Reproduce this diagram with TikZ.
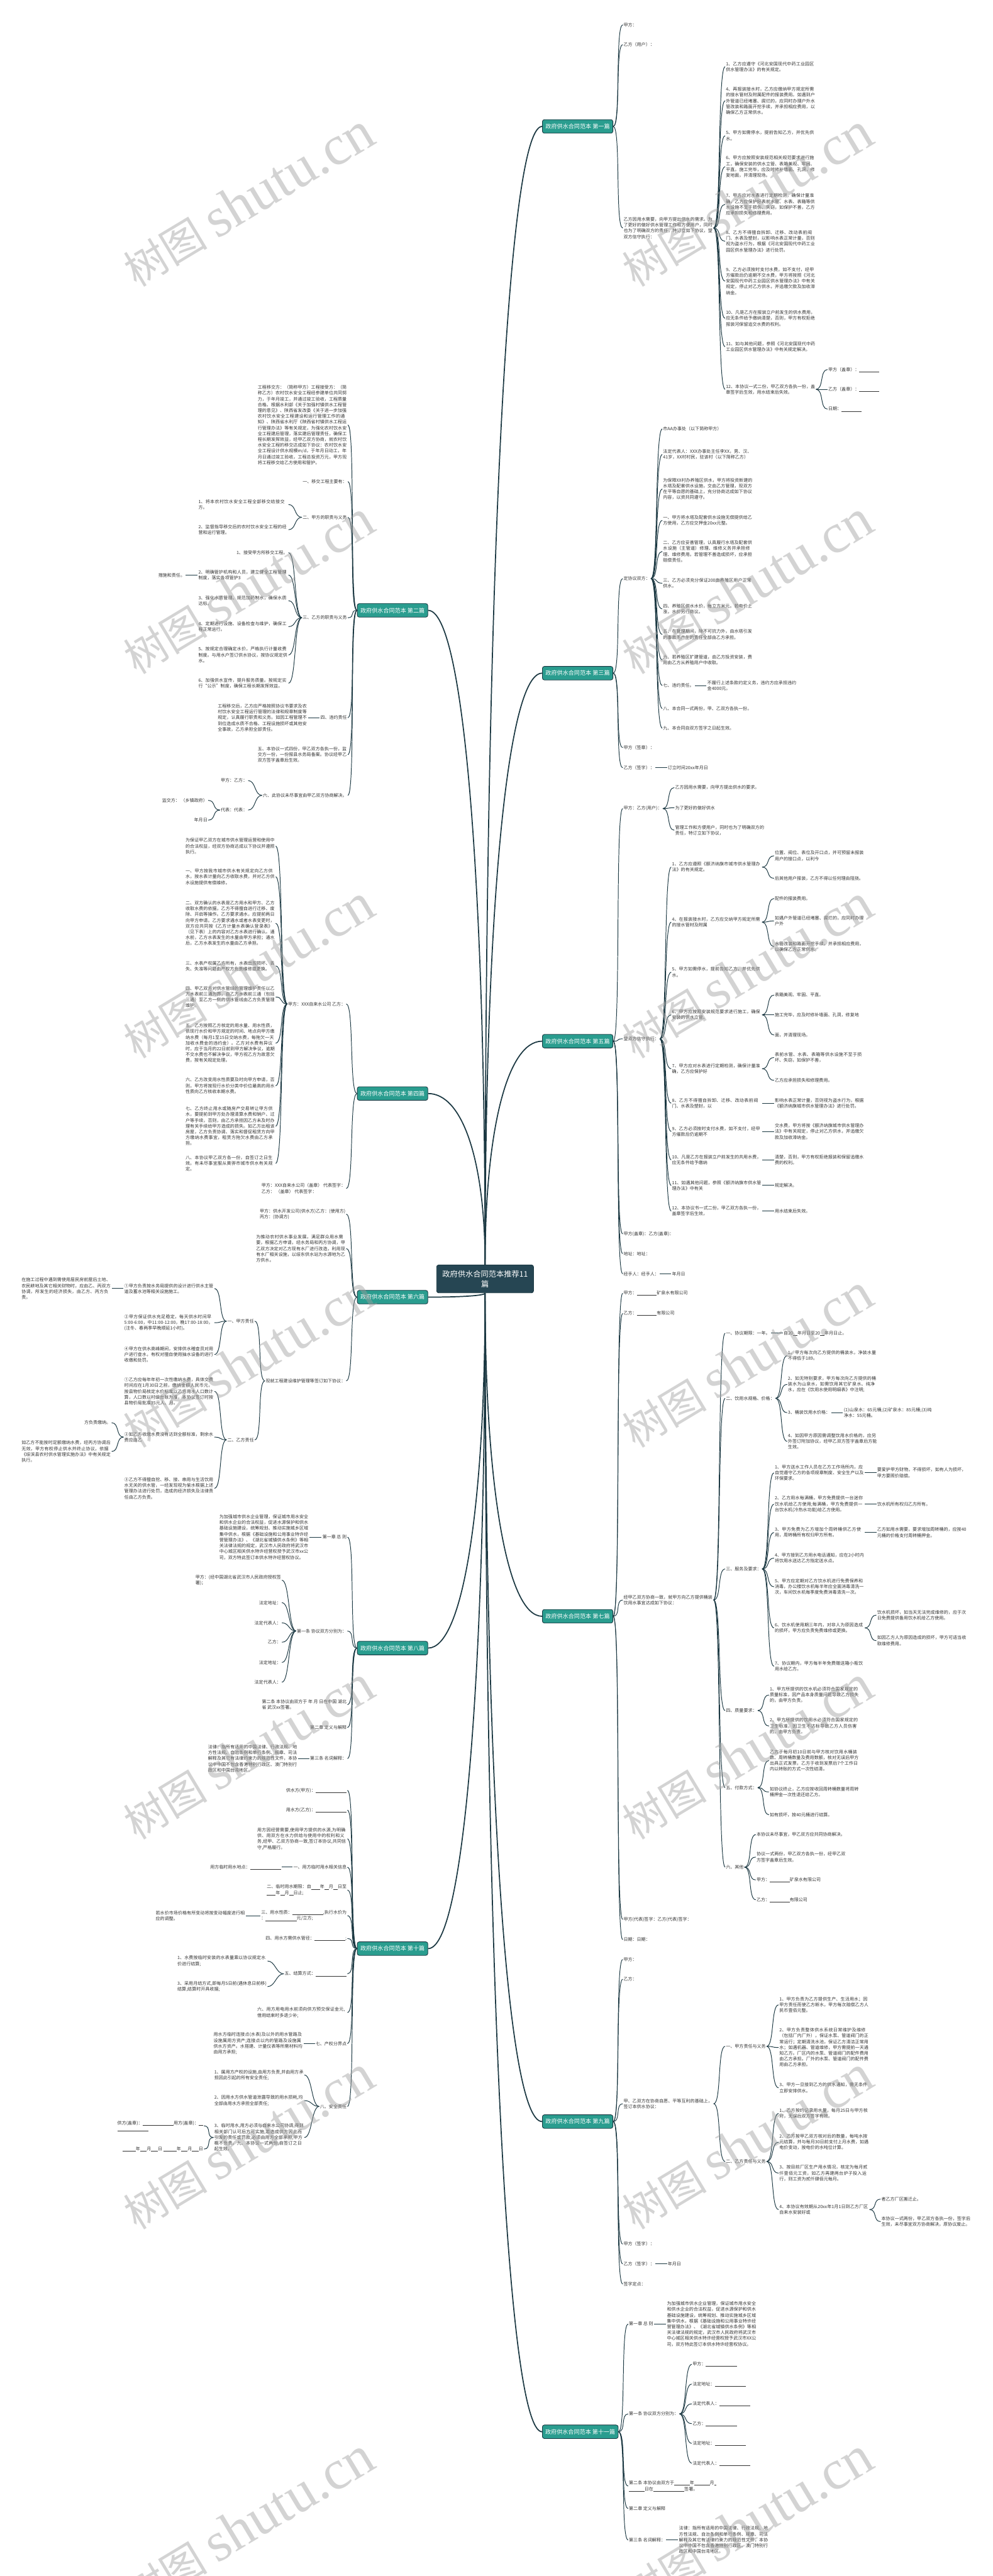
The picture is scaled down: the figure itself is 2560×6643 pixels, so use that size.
\documentclass[tikz,border=0pt]{standalone}
\usepackage{fontspec}
\setmainfont{Noto Sans CJK SC}
\newfontfamily\wmlatin{Liberation Serif}
\XeTeXlinebreaklocale "zh"
\XeTeXlinebreakskip=0pt plus 1pt
\usetikzlibrary{calc,positioning}
\definecolor{slate}{RGB}{38,70,83}
\definecolor{jade}{RGB}{42,157,143}
\definecolor{edge}{RGB}{27,56,66}
\definecolor{ink}{RGB}{51,51,51}
\newcommand{\leaffont}{\fontsize{6.5pt}{8.5pt}\selectfont}
\newcommand{\armfont}{\fontsize{8.4pt}{10pt}\selectfont}
\newcommand{\hubfont}{\fontsize{11.3pt}{15pt}\selectfont}
\newcommand{\fillin}[1]{\rule[-0.15em]{#1em}{0.06em}}
\newcommand{\kidsR}[2]{\foreach \kid in {#2} \draw[twig] (#1.east) to[rc] (\kid.west);}
\newcommand{\kidsL}[2]{\foreach \kid in {#2} \draw[twig] (#1.west) to[lc] (\kid.east);}
\newcommand{\trunkR}[2]{\draw[trunk] (#1.west) .. controls +(-90,0) and ($(root.#2)!0.6!(root.#2|-#1.west)$) .. (root.#2);}
\newcommand{\trunkL}[2]{\draw[trunk] (#1.east) .. controls +(90,0) and ($(root.#2)!0.6!(root.#2|-#1.east)$) .. (root.#2);}
\tikzset{
  rootbox/.style={fill=slate, draw=edge, line width=0.8pt, rounded corners=3pt, text=white, font=\hubfont, align=center, minimum width=50mm, minimum height=14.4mm},
  armbox/.style={fill=jade, draw=edge, line width=0.8pt, rounded corners=3pt, text=white, font=\armfont, minimum width=36.4mm, minimum height=7mm, inner xsep=1.5mm},
  leaf/.style={font=\leaffont, text=ink, inner sep=1pt, align=left},
  R/.style={leaf, anchor=west},
  L/.style={leaf, anchor=east},
  wide/.style={text width=131pt},
  trunk/.style={draw=edge, line width=1.6pt},
  twig/.style={draw=edge, line width=0.9pt},
  rc/.style={out=0, in=180, out distance=4mm, in distance=4mm},
  lc/.style={out=180, in=0, out distance=4mm, in distance=4mm},
  wmark/.style={rotate=31, text=black!38, text opacity=0.45, font=\fontsize{62pt}{62pt}\selectfont}
}
\begin{document}
\begin{tikzpicture}[x=0.2mm, y=-0.2mm]
\fill[white] (0,0) rectangle (2560,6643);
\useasboundingbox (0,0) rectangle (2560,6643);

% hub and arms
\node[rootbox] (root) at (1251,3298) {政府供水合同范本推荐11\\篇};
\node[armbox, anchor=west] (b1) at (1398,326) {政府供水合同范本 第一篇};
\node[armbox, anchor=west] (b3) at (1398,1736) {政府供水合同范本 第三篇};
\node[armbox, anchor=west] (b5) at (1398,2685) {政府供水合同范本 第五篇};
\node[armbox, anchor=west] (b7) at (1398,4168) {政府供水合同范本 第七篇};
\node[armbox, anchor=west] (b9) at (1398,5471) {政府供水合同范本 第九篇};
\node[armbox, anchor=west] (b11) at (1398,6271) {政府供水合同范本 第十一篇};
\node[armbox, anchor=east] (b2) at (1104,1574) {政府供水合同范本 第二篇};
\node[armbox, anchor=east] (b4) at (1104,2820) {政府供水合同范本 第四篇};
\node[armbox, anchor=east] (b6) at (1104,3345) {政府供水合同范本 第六篇};
\node[armbox, anchor=east] (b8) at (1104,4250) {政府供水合同范本 第八篇};
\node[armbox, anchor=east] (b10) at (1104,5025) {政府供水合同范本 第十篇};
\trunkR{b1}{north} \trunkR{b3}{north} \trunkR{b5}{north}
\trunkR{b7}{south} \trunkR{b9}{south} \trunkR{b11}{south}
\trunkL{b2}{north} \trunkL{b4}{north} \trunkL{b6}{south}
\trunkL{b8}{south} \trunkL{b10}{south}

% 第一篇
\node[R] (b1a) at (1606,64) {甲方：};
\node[R] (b1b) at (1606,115) {乙方（用户）：};
\node[R,wide] (b1c) at (1606,588) {乙方因用水需要，向甲方提出供水的需求。为了更好的做好供水管理工作和方便用户，同时也为了明确双方的责任，特订立如下协议，望双方信守执行：};
\node[R,wide] (b1c1) at (1870,172) {1、乙方应遵守《河北安国现代中药工业园区供水管理办法》的有关规定。};
\node[R,wide] (b1c2) at (1870,260) {4、再报装接水时，乙方应缴纳甲方规定所需的接水管材及附属配件的报装费用。如遇到户外管道已经堵塞、腐烂的，应同时办理户外水管改装和路面开挖手续，并承担相应费用，以确保乙方正常供水。};
\node[R,wide] (b1c3) at (1870,350) {5、甲方如需停水，提前告知乙方，并优先供水。};
\node[R,wide] (b1c4) at (1870,430) {6、甲方应按照安装规范相关规范要求进行施工，确保安装的供水立管、表箱美观、牢固、平直。施工完毕，应及时修补墙面、孔洞，修复地面，并清理现场。};
\node[R,wide] (b1c5) at (1870,527) {7、甲方应对水表进行定期检测，确保计量准确，乙方应保护好表前水管、水表、表箱等供水设施不至于损伤、失窃，如保护不善，乙方应承担损失和修理费用。};
\node[R,wide] (b1c6) at (1870,622) {8、乙方不得擅自拆卸、迁移、改动表前阀门、水表及塑封，以影响水表正常计量，否则视为盗水行为，根据《河北安国现代中药工业园区供水管理办法》进行处罚。};
\node[R,wide] (b1c7) at (1870,725) {9、乙方必须按时支付水费，如不支付，经甲方催款后仍逾期不交水费，甲方将按照《河北安国现代中药工业园区供水管理办法》中有关规定，停止对乙方供水，并追缴欠款及加收滞纳金。};
\node[R,wide] (b1c8) at (1870,821) {10、凡是乙方在报装立户前发生的供水费用，应无条件给予缴纳清楚，否则，甲方有权拒绝报装河保留追交水费的权利。};
\node[R,wide] (b1c9) at (1870,894) {11、如与其他问题，参照《河北安国现代中药工业园区供水管理办法》中有关规定解决。};
\node[R,wide] (b1c10) at (1870,1004) {12、本协议一式二份，甲乙双方各执一份，盖章签字后生效，用水结束后失效。};
\node[R] (b1d1) at (2134,953) {甲方（盖章）：\fillin{4.5}};
\node[R] (b1d2) at (2134,1004) {乙方（盖章）：\fillin{4.5}};
\node[R] (b1d3) at (2134,1055) {日期：\fillin{4.5}};
\kidsR{b1}{b1a,b1b,b1c}
\kidsR{b1c}{b1c1,b1c2,b1c3,b1c4,b1c5,b1c6,b1c7,b1c8,b1c9,b1c10}
\kidsR{b1c10}{b1d1,b1d2,b1d3}

% 第三篇
\node[R] (b3a) at (1606,1492) {定协议双方：};
\node[R] (b3b) at (1606,1928) {甲方（签章）：};
\node[R] (b3c) at (1606,1980) {乙方（签字）：};
\node[R] (b3c1) at (1720,1980) {订立时间20xx年月日};
\node[R,wide] (b3a1) at (1708,1106) {市AA办事处（以下简称甲方）};
\node[R,wide] (b3a2) at (1708,1172) {法定代表人：XXX办事处主任李XX，男、汉、41岁，XX村村民，驻该村（以下简称乙方）};
\node[R,wide] (b3a3) at (1708,1261) {为保障XX村办养殖区供水，甲方将投资新建的水塔及配套供水设施，交由乙方管理，现双方在平等自愿的基础上，充分协商达成如下协议内容，以资共同遵守。};
\node[R,wide] (b3a4) at (1708,1342) {一、甲方将水塔及配套供水设施无偿提供给乙方使用，乙方应交押金20xx元整。};
\node[R,wide] (b3a5) at (1708,1422) {二、乙方应妥善管理，认真履行水塔及配套供水设施（主管道）修理、维修义务并承担修理、维修费用。若管理不善造成损坏，应承担赔偿责任。};
\node[R,wide] (b3a6) at (1708,1504) {三、乙方必须充分保证200亩养殖区用户正常供水。};
\node[R,wide] (b3a7) at (1708,1570) {四、养殖区供水水价，每立方米元。若电价上涨，水价另行商议。};
\node[R,wide] (b3a8) at (1708,1636) {五、在管理期间，除不可抗力外，由水塔引发的事故而产生的责任全部由乙方承担。};
\node[R,wide] (b3a9) at (1708,1702) {六、若养殖区扩建管道，由乙方投资安装，费用由乙方从养殖用户中收取。};
\node[R] (b3a10) at (1708,1768) {七、违约责任。};
\node[R,wide] (b3a10a) at (1822,1768) {不履行上述条款约定义务，违约方应承担违约金4000元。};
\node[R] (b3a11) at (1708,1827) {八、本合同一式两份，甲、乙双方各执一份。};
\node[R] (b3a12) at (1708,1878) {九、本合同自双方签字之日起生效。};
\kidsR{b3}{b3a,b3b,b3c}
\kidsR{b3c}{b3c1}
\kidsR{b3a}{b3a1,b3a2,b3a3,b3a4,b3a5,b3a6,b3a7,b3a8,b3a9,b3a10,b3a11,b3a12}
\kidsR{b3a10}{b3a10a}

% 第五篇
\node[R] (b5a) at (1606,2085) {甲方：乙方(用户)：};
\node[R] (b5a1) at (1739,2031) {乙方因用水需要，向甲方提出供水的要求。};
\node[R] (b5a2) at (1739,2083) {为了更好的做好供水};
\node[R,wide] (b5a3) at (1739,2141) {管理工作和方便用户，同时也为了明确双方的责任，特订立如下协议，};
\node[R] (b5b) at (1606,2679) {望双方信守执行：};
\node[R,wide] (b5b1) at (1731,2236) {1、乙方应遵照《额济纳旗市城市供水管理办法》的有关规定。};
\node[R,wide] (b5b1a) at (1996,2207) {位置、阀位、表位及开口点，并可预留未报装用户的接口点，以利今};
\node[R] (b5b1b) at (1996,2265) {后其他用户报装，乙方不得以任何理由阻挠。};
\node[R,wide] (b5b2) at (1731,2378) {4、在报装接水时，乙方应交纳甲方规定所需的接水管材及附属};
\node[R] (b5b2a) at (1996,2317) {配件的报装费用。};
\node[R,wide] (b5b2b) at (1996,2375) {如遇户外管道已经堵塞、腐烂的，应同时办理户外};
\node[R,wide] (b5b2c) at (1996,2441) {水管改装和路面开挖手续，并承担相应费用，以确保乙方正常供水。};
\node[R,wide] (b5b3) at (1731,2507) {5、甲方如需停水，提前告知乙方，并优先供水。};
\node[R,wide] (b5b4) at (1731,2617) {6、甲方应按照安装规范要求进行施工，确保安装的供水立管、};
\node[R] (b5b4a) at (1996,2566) {表箱美观、牢固、平直。};
\node[R] (b5b4b) at (1996,2617) {施工完毕，应及时修补墙面、孔洞，修复地};
\node[R] (b5b4c) at (1996,2669) {面，并清理现场。};
\node[R,wide] (b5b5) at (1731,2756) {7、甲方应对水表进行定期检测，确保计量准确，乙方应保护好};
\node[R,wide] (b5b5a) at (1996,2727) {表前水管、水表、表箱等供水设施不至于损坏、失窃，如保护不善，};
\node[R] (b5b5b) at (1996,2786) {乙方应承担损失和修理费用。};
\node[R,wide] (b5b6) at (1731,2845) {8、乙方不得擅自拆卸、迁移、改动表前阀门、水表及塑封，以};
\node[R,wide] (b5b6a) at (1996,2845) {影响水表正常计量，否则视为盗水行为，根据《额济纳旗城市供水管理办法》进行处罚。};
\node[R,wide] (b5b7) at (1731,2918) {9、乙方必须按时支付水费，如不支付，经甲方催款后仍逾期不};
\node[R,wide] (b5b7a) at (1996,2918) {交水费，甲方将按《额济纳旗城市供水管理办法》中有关规定，停止对乙方供水，并追缴欠款及加收滞纳金。};
\node[R,wide] (b5b8) at (1731,2991) {10、凡是乙方在报装立户前发生的共用水费，应无条件给予缴纳};
\node[R,wide] (b5b8a) at (1996,2991) {清楚，否则，甲方有权拒绝报装和保留追缴水费的权利。};
\node[R,wide] (b5b9) at (1731,3057) {11、如遇其他问题，参照《额济纳旗市供水管理办法》中有关};
\node[R] (b5b9a) at (1996,3057) {规定解决。};
\node[R,wide] (b5b10) at (1731,3123) {12、本协议书一式二份，甲乙双方各执一份，盖章签字后生效，};
\node[R] (b5b10a) at (1996,3123) {用水结束后失效。};
\node[R] (b5c) at (1606,3182) {甲方(盖章)：乙方(盖章)：};
\node[R] (b5d) at (1606,3233) {地址：地址：};
\node[R] (b5e) at (1606,3285) {经手人：经手人：};
\node[R] (b5e1) at (1731,3285) {年月日};
\kidsR{b5}{b5a,b5b,b5c,b5d,b5e}
\kidsR{b5a}{b5a1,b5a2,b5a3}
\kidsR{b5b}{b5b1,b5b2,b5b3,b5b4,b5b5,b5b6,b5b7,b5b8,b5b9,b5b10}
\kidsR{b5b1}{b5b1a,b5b1b}
\kidsR{b5b2}{b5b2a,b5b2b,b5b2c}
\kidsR{b5b4}{b5b4a,b5b4b,b5b4c}
\kidsR{b5b5}{b5b5a,b5b5b}
\kidsR{b5b6}{b5b6a} \kidsR{b5b7}{b5b7a} \kidsR{b5b8}{b5b8a}
\kidsR{b5b9}{b5b9a} \kidsR{b5b10}{b5b10a} \kidsR{b5e}{b5e1}

% 第七篇
\node[R] (b7a) at (1606,3335) {甲方：\fillin{4.5}矿泉水有限公司};
\node[R] (b7b) at (1606,3387) {乙方：\fillin{4.5}有限公司};
\node[R,wide] (b7c) at (1606,4126) {经甲乙双方协商一致，就甲方向乙方提供桶装饮用水事宜达成如下协议：};
\node[R] (b7d) at (1606,4950) {甲方(代表)签字：乙方(代表)签字：};
\node[R] (b7e) at (1606,5002) {日期：日期：};
\node[R] (b7c1) at (1870,3438) {一、协议期限：一年。};
\node[R] (b7c1a) at (2019,3438) {自20\fillin{1}年月日至20\fillin{1}年月日止。};
\node[R] (b7c2) at (1870,3606) {二、饮用水规格、价格：};
\node[R,wide] (b7c2a) at (2030,3496) {1、甲方每次向乙方提供的桶装水，净装水量不得低于189。};
\node[R,wide] (b7c2b) at (2030,3570) {2、如无特别要求，甲方每次向乙方提供的桶装水为山泉水，如需饮用其它矿泉水、纯净水，应在《饮用水使用明细表》中注明;};
\node[R] (b7c2c) at (2030,3643) {3、桶装饮用水价格：};
\node[R,wide] (b7c2c1) at (2174,3643) {(1)山泉水：65元桶;(2)矿泉水：85元桶;(3)纯净水：55元桶。};
\node[R,wide] (b7c2d) at (2030,3717) {4、如因甲方原因需调整饮用水价格的，应另外签订附加协议，经甲乙双方签字盖章后方能生效。};
\node[R] (b7c3) at (1870,4046) {三、服务及要求：};
\node[R,wide] (b7c3a) at (1996,3798) {1、甲方送水工作人员在乙方工作场所内，应自觉遵守乙方的各项规章制度、安全生产以及环保要求。};
\node[R,wide] (b7c3a1) at (2260,3798) {要爱护甲方财物，不得损坏，如有人为损坏，甲方要照价赔偿。};
\node[R,wide] (b7c3b) at (1996,3879) {2、乙方用水每满桶，甲方免费提供一台迷你饮水机给乙方使用;每满桶，甲方免费提供一台饮水机(冷热水功能)给乙方使用。};
\node[R] (b7c3b1) at (2260,3879) {饮水机所有权归乙方所有。};
\node[R,wide] (b7c3c) at (1996,3952) {3、甲方免费为乙方增加个周转桶供乙方使用，周转桶所有权归甲方所有。};
\node[R,wide] (b7c3c1) at (2260,3952) {乙方如用水需要，要求增加周转桶的，应按40元桶的价格支付周转桶押金。};
\node[R,wide] (b7c3d) at (1996,4018) {4、甲方接到乙方用水电话通知，应在2小时内将饮用水送达乙方指定送水点。};
\node[R,wide] (b7c3e) at (1996,4092) {5、甲方应定期对乙方饮水机进行免费保养和消毒，办公楼饮水机每半年应全面消毒清洗一次，车间饮水机每季度免费消毒清洗一次。};
\node[R,wide] (b7c3f) at (1996,4198) {6、饮水机使用期三年内，对非人为原因造成的损坏，甲方应负责免费维修或更换。};
\node[R,wide] (b7c3f1) at (2260,4165) {饮水机损坏，如当天无法完成维修的，应于次日免费提供备用饮水机给乙方使用。};
\node[R,wide] (b7c3f2) at (2260,4231) {如因乙方人为原因造成的损坏，甲方可适当收取维修费用。};
\node[R,wide] (b7c3g) at (1996,4297) {7、协议期内，甲方每半年免费赠送箱小瓶饮用水给乙方。};
\node[R] (b7c4) at (1870,4411) {四、质量要求：};
\node[R,wide] (b7c4a) at (1983,4371) {1、甲方所提供的饮水机必须符合国家规定的质量标准，因产品本身质量问题导致乙方损失的，由甲方负责。};
\node[R,wide] (b7c4b) at (1983,4451) {2、甲方所提供的饮用水必须符合国家规定的卫生标准，因卫生不达标导致乙方人员伤害的，由甲方负责。};
\node[R] (b7c5) at (1870,4610) {五、付款方式：};
\node[R,wide] (b7c5a) at (1983,4540) {乙方于每月初10日前与甲方核对饮用水桶装数、周转桶数量及费用数额，核对无误后甲方出具正式发票，乙方于收到发票后7个工作日内以转账的方式一次性结清。};
\node[R,wide] (b7c5b) at (1983,4621) {如协议终止，乙方应按收回周转桶数量将周转桶押金一次性退还给乙方。};
\node[R] (b7c5c) at (1983,4680) {如有损坏，按40元桶进行结算。};
\node[R] (b7c6) at (1870,4815) {六、其他};
\node[R] (b7c6a) at (1949,4731) {本协议未尽事宜，甲乙双方应共同协商解决。};
\node[R,wide] (b7c6b) at (1949,4789) {协议一式两份，甲乙双方各执一份，经甲乙双方签字盖章后生效。};
\node[R] (b7c6c) at (1949,4848) {甲方：\fillin{4.5}矿泉水有限公司};
\node[R] (b7c6d) at (1949,4899) {乙方：\fillin{4.5}有限公司};
\kidsR{b7}{b7a,b7b,b7c,b7d,b7e}
\kidsR{b7c}{b7c1,b7c2,b7c3,b7c4,b7c5,b7c6}
\kidsR{b7c1}{b7c1a}
\kidsR{b7c2}{b7c2a,b7c2b,b7c2c,b7c2d}
\kidsR{b7c2c}{b7c2c1}
\kidsR{b7c3}{b7c3a,b7c3b,b7c3c,b7c3d,b7c3e,b7c3f,b7c3g}
\kidsR{b7c3a}{b7c3a1} \kidsR{b7c3b}{b7c3b1} \kidsR{b7c3c}{b7c3c1}
\kidsR{b7c3f}{b7c3f1,b7c3f2}
\kidsR{b7c4}{b7c4a,b7c4b}
\kidsR{b7c5}{b7c5a,b7c5b,b7c5c}
\kidsR{b7c6}{b7c6a,b7c6b,b7c6c,b7c6d}

% 第九篇
\node[R] (b9a) at (1606,5053) {甲方：};
\node[R] (b9b) at (1606,5104) {乙方：};
\node[R,wide] (b9c) at (1606,5425) {甲、乙双方在协商自愿、平等互利的基础上，签订本供水协议：};
\node[R] (b9d) at (1606,5787) {甲方（签字）：};
\node[R] (b9e) at (1606,5838) {乙方（签字）：};
\node[R] (b9e1) at (1720,5838) {年月日};
\node[R] (b9f) at (1606,5890) {签字定点：};
\node[R] (b9c1) at (1870,5277) {一、甲方责任与义务};
\node[R,wide] (b9c1a) at (2008,5170) {1、甲方负责为乙方提供生产、生活用水；因甲方责任而使乙方断水，甲方每次赔偿乙方人民币壹佰元整。};
\node[R,wide] (b9c1b) at (2008,5280) {2、甲方负责整体供水系统日常维护及维修（包括厂内厂外），保证水泵、管道阀门的正常运行；定期清洗水池，保证乙方清洁正常用水；如遇机器、管道维修，甲方需提前一天通知乙方。厂区内的水泵、管道阀门的配件费用由乙方承担。厂外的水泵、管道阀门的配件费用由乙方承担。};
\node[R,wide] (b9c1c) at (2008,5384) {3、甲方一旦接到乙方的供水通知，需无条件立即安排供水。};
\node[R] (b9c2) at (1870,5574) {二、乙方责任与义务};
\node[R,wide] (b9c2a) at (2008,5450) {1、乙方按约记录用水量，每月25日与甲方核对，无误后双方签字有效。};
\node[R,wide] (b9c2b) at (2008,5524) {2、乙方按甲乙双方核对后的数量，每吨水按元结算，并与每月30日前支付上月水费，如遇电价变动，按电价的水吨位计算。};
\node[R,wide] (b9c2c) at (2008,5604) {3、按目前厂区生产用水情况，核定为每月贰仟壹佰元工资，如乙方再建两台炉子投入运行，则工资为贰仟肆佰元每月。};
\node[R,wide] (b9c2d) at (2008,5698) {4、本协议有效期从20xx年1月1日到乙方厂区自来水安装好或};
\node[R] (b9c2d1) at (2271,5671) {者乙方厂区搬迁止。};
\node[R,wide] (b9c2d2) at (2271,5729) {本协议一式两份，甲乙双方各执一份，签字后生效，未尽事宜双方协商解决，原协议废止。};
\kidsR{b9}{b9a,b9b,b9c,b9d,b9e,b9f}
\kidsR{b9e}{b9e1}
\kidsR{b9c}{b9c1,b9c2}
\kidsR{b9c1}{b9c1a,b9c1b,b9c1c}
\kidsR{b9c2}{b9c2a,b9c2b,b9c2c,b9c2d}
\kidsR{b9c2d}{b9c2d1,b9c2d2}

% 第十一篇
\node[R] (b11a) at (1620,5993) {第一章 总 则};
\node[R,wide] (b11a1) at (1718,5993) {为加强城市供水企业管理，保证城市用水安全和供水企业的合法权益，促进水源保护和供水基础设施建设，统筹规划、推动实施城乡区域集中供水，根据《基础设施和公用事业特许经营管理办法》、《湖北省城镇供水条例》等相关法律法规的规定，武汉市人民政府将武汉市中心城区相关供水特许经营权授予武汉市XX公司，双方特此签订本供水特许经营权协议。};
\node[R] (b11b) at (1620,6225) {第一条 协议双方分别为：};
\node[R] (b11b1) at (1784,6097) {甲方：\fillin{7}};
\node[R] (b11b2) at (1784,6148) {法定地址：\fillin{7}};
\node[R] (b11b3) at (1784,6199) {法定代表人：\fillin{7}};
\node[R] (b11b4) at (1784,6250) {乙方：\fillin{7}};
\node[R] (b11b5) at (1784,6301) {法定地址：\fillin{7}};
\node[R] (b11b6) at (1784,6352) {法定代表人：\fillin{7}};
\node[R] (b11c) at (1620,6411) {第二条 本协议由双方于\fillin{3.5}年\fillin{3.5}月\fillin{0.5}\\\fillin{3.5}日在\fillin{7}签署。};
\node[R] (b11d) at (1620,6469) {第二章 定义与解释};
\node[R] (b11e) at (1620,6550) {第三条 名词解释：};
\node[R,wide] (b11e1) at (1749,6550) {法律：指所有适用的中国法律、行政法规、地方性法规、自治条例和单行条例、规章、司法解释及其它有法律约束力的规范性文件，本协议中中国不包含香港特别行政区、澳门特别行政区和中国台湾地区。};
\kidsR{b11}{b11a,b11b,b11c,b11d,b11e}
\kidsR{b11a}{b11a1}
\kidsR{b11b}{b11b1,b11b2,b11b3,b11b4,b11b5,b11b6}
\kidsR{b11e}{b11e1}

% 第二篇
\node[L,wide] (b2a) at (897,1096) {工程移交方：（简称甲方）工程接受方：（简称乙方）农村饮水安全工程经参建单位共同努力，于年月竣工，并通过竣工验收，工程质量合格。根据水利部《关于加强村镇供水工程管理的意见》、陕西省发改委《关于进一步加强农村饮水安全工程建设和运行管理工作的通知》、陕西省水利厅《陕西省村镇供水工程运行管理办法》等有关规定，为强化农村饮水安全工程建后管理，落实建后管理责任，确保工程长期发挥效益，经甲乙双方协商，就农村饮水安全工程的移交达成如下协议：农村饮水安全工程设计供水规模m/d，于年月日动工，年月日通过竣工验收，工程总投资万元，甲方现将工程移交给乙方使用和管护。};
\node[L] (b2b) at (897,1242) {一、移交工程主要有：};
\node[L] (b2c) at (897,1334) {二、甲方的职责与义务};
\node[L,wide] (b2c1) at (744,1301) {1、将本农村饮水安全工程全部移交给接交方。};
\node[L,wide] (b2c2) at (744,1366) {2、监督指导移交后的农村饮水安全工程的经营和运行管理。};
\node[L] (b2d) at (897,1593) {三、乙方的职责与义务};
\node[L] (b2d1) at (744,1425) {1、接受甲方所移交工程。};
\node[L,wide] (b2d2) at (744,1483) {2、明确管护机构和人员，建立健全工程管理制度，落实各项管护3};
\node[L] (b2d2a) at (479,1483) {措施和责任。};
\node[L,wide] (b2d3) at (744,1549) {3、强化水质管理、规范加药制水，确保水质达标。};
\node[L,wide] (b2d4) at (744,1616) {4、定期进行设施、设备检查与维护，确保工程正常运行。};
\node[L,wide] (b2d5) at (744,1689) {5、按规定合理确定水价，严格执行计量收费制度。与用水户签订供水协议，按协议规定供水。};
\node[L,wide] (b2d6) at (744,1762) {6、加强供水宣传，提升服务质量。按规定实行“公示”制度，确保工程长期发挥效益。};
\node[L] (b2e) at (897,1851) {四、违约责任};
\node[L,wide] (b2e1) at (794,1851) {工程移交后，乙方应严格按照协议书要求及农村饮水安全工程运行管理的法律和规章制度等规定，认真履行职责和义务。如因工程管理不到位造成水质不合格、工程设施损坏或其他安全事故，乙方承担全部责任。};
\node[L,wide] (b2f) at (897,1946) {五、本协议一式四份，甲乙双方各执一份，监交方一份，一份报县水务局备案。协议经甲乙双方签字盖章后生效。};
\node[L] (b2g) at (897,2051) {六、此协议未尽事宜由甲乙双方协商解决。};
\node[L] (b2g1) at (640,2013) {甲方：乙方：};
\node[L] (b2g2) at (640,2089) {代表：代表：};
\node[L] (b2g2a) at (537,2064) {监交方： （乡镇政府）};
\node[L] (b2g2b) at (537,2115) {年月日};
\kidsL{b2}{b2a,b2b,b2c,b2d,b2e,b2f,b2g}
\kidsL{b2c}{b2c1,b2c2}
\kidsL{b2d}{b2d1,b2d2,b2d3,b2d4,b2d5,b2d6}
\kidsL{b2d2}{b2d2a}
\kidsL{b2e}{b2e1}
\kidsL{b2g}{b2g1,b2g2}
\kidsL{b2g2}{b2g2a,b2g2b}

% 第四篇
\node[L] (b4a) at (893,2589) {甲方：XXX自来水公司 乙方：};
\node[L,wide] (b4a1) at (711,2182) {为保证甲乙双方在城市供水管理运营和使用中的合法权益，经双方协商达成以下协议并遵照执行。};
\node[L,wide] (b4a2) at (711,2261) {一、甲方按我市城市供水有关规定向乙方供水，按水表计量向乙方收取水费，并对乙方供水设施提供有偿维修。};
\node[L,wide] (b4a3) at (711,2381) {二、双方确认的水表是乙方用水和甲方、乙方收取水费的依据，乙方不得擅自进行迁移、废除、开启等操作。乙方要求通水，应提前两日向甲方申请。乙方要求通水或者水表变更时，双方应共同按《乙方计量水表确认登录表》（见下表）上的内容对乙方水表进行确认。通水前，乙方水表发生的水量由甲方承担；通水后，乙方水表发生的水量由乙方承担。};
\node[L,wide] (b4a4) at (711,2491) {三、水表产权属乙方所有，水表出现损坏、丢失、失准等问题由产权方负责维修或更换。};
\node[L,wide] (b4a5) at (711,2571) {四、甲乙双方对供水管线的管理维护责任以乙方水表前三通为界，自乙方水表前三通（包括三通）至乙方一侧的供水管线由乙方负责管理维护。};
\node[L,wide] (b4a6) at (711,2690) {五、乙方按照乙方核定的用水量、用水性质，依现行水价和甲方规定的时间、地点向甲方缴纳水费（每月1至15日交纳水费，每拖欠一天加收水费金的违约金）。乙方对水费有异议时，应于当月的22日前到甲方解决争议，逾期不交水费也不解决争议，甲方视乙方为故意欠费，按有关规定处理。};
\node[L,wide] (b4a7) at (711,2800) {六、乙方改变用水性质要及时向甲方申请，否则，甲方将按现行水价分类中价位最高的用水性质向乙方核收本期水费。};
\node[L,wide] (b4a8) at (711,2904) {七、乙方终止用水或随房产交易转让甲方供水，要提前到甲方处办理清算水费和销户、过户等手续，否则，由乙方承担因乙方未及时办理有关手续给甲方造成的损失。如乙方出租该房屋，乙方负责协调、落实和督促租赁方向甲方缴纳水费事宜，租赁方拖欠水费由乙方承担。};
\node[L,wide] (b4a9) at (711,3000) {八、本协议甲乙双方各一份，自签订之日生效。有未尽事宜服从黄骅市城市供水有关规定。};
\node[L] (b4b) at (893,3065) {甲方：XXX自来水公司（盖章） 代表签字：\\乙方： （盖章） 代表签字：};
\kidsL{b4}{b4a,b4b}
\kidsL{b4a}{b4a1,b4a2,b4a3,b4a4,b4a5,b4a6,b4a7,b4a8,b4a9}

% 第六篇
\node[L] (b6a) at (893,3131) {甲方：供水开发公司(供水方)乙方：(使用方)\\丙方：(协调方)};
\node[L,wide] (b6b) at (893,3220) {为推动农村供水事业发展，满足群众用水需要，根据乙方申请，经水务局和丙方协调，甲乙双方决定对乙方现有水厂进行改造，利用现有水厂相关设施，以绥东供水站为水源地为乙方供水。};
\node[L] (b6c) at (893,3561) {现就工程建设维护管理等签订如下协议：};
\node[L] (b6c1) at (657,3407) {一、甲方责任};
\node[L,wide] (b6c1a) at (553,3323) {①甲方负责按水务局提供的设计进行供水主管道及蓄水池等相关设施施工。};
\node[L,wide] (b6c1a1) at (288,3323) {在施工过程中遇到需使用居民房前屋后土地、农民耕地及其它相关财物时，应由乙、丙双方协调，所发生的经济损失，由乙方、丙方负责。};
\node[L,wide] (b6c1b) at (553,3411) {②甲方保证供水充足稳定，每天供水时间早5:00-6:00，中11:00-12:00，晚17:00-18:00，(注冬、春两季早晚顺延1小时)。};
\node[L,wide] (b6c1c) at (553,3493) {④甲方在供水高峰期间，安排供水稽查员对用户进行查水，有权对擅自使用抽水设备的进行收缴和处罚。};
\node[L] (b6c2) at (657,3713) {二、乙方责任};
\node[L,wide] (b6c2a) at (553,3588) {①乙方应每年年初一次性缴纳水费，具体交费时间应在1月30日之前，缴纳金额人民币元，按县物价局核定水价标准以乙方用水人口数计算，人口数以村级台账为准，本协议签订时按县物价局批准35元人、月。};
\node[L,wide] (b6c2b) at (553,3706) {②如乙方收缴水费没有达到全额标准，剩余水费应由乙};
\node[L] (b6c2b1) at (288,3669) {方负责缴纳。};
\node[L,wide] (b6c2b2) at (288,3743) {如乙方不能按时足额缴纳水费，经丙方协调后无效，甲方有权停止供水并终止协议，依据《绥滨县农村供水管理实施办法》中有关规定执行。};
\node[L,wide] (b6c2c) at (553,3838) {③乙方不得擅自挖、移、接、串用与生活饮用水无关的供水管，一经发现视为偷水根据上述管理办法进行处罚，造成的经济损失及法律责任由乙方负责。};
\kidsL{b6}{b6a,b6b,b6c}
\kidsL{b6c}{b6c1,b6c2}
\kidsL{b6c1}{b6c1a,b6c1b,b6c1c}
\kidsL{b6c1a}{b6c1a1}
\kidsL{b6c2}{b6c2a,b6c2b,b6c2c}
\kidsL{b6c2b}{b6c2b1,b6c2b2}

% 第八篇
\node[L] (b8a) at (896,3964) {第一章 总 则};
\node[L,wide] (b8a1) at (798,3964) {为加强城市供水企业管理，保证城市用水安全和供水企业的合法权益，促进水源保护和供水基础设施建设，统筹规划、推动实施城乡区域集中供水，根据《基础设施和公用事业特许经营管理办法》、《湖北省城镇供水条例》等相关法律法规的规定，武汉市人民政府将武汉市中心城区相关供水特许经营权授予武汉市xx公司，双方特此签订本供水特许经营权协议。};
\node[L] (b8b) at (896,4206) {第一条 协议双方分别为：};
\node[L] (b8b1) at (727,4075) {甲方：(经中国湖北省武汉市人民政府授权签\\署)；};
\node[L] (b8b2) at (727,4133) {法定地址：};
\node[L] (b8b3) at (727,4185) {法定代表人：};
\node[L] (b8b4) at (727,4235) {乙方：};
\node[L] (b8b5) at (727,4287) {法定地址：};
\node[L] (b8b6) at (727,4338) {法定代表人：};
\node[L] (b8c) at (896,4396) {第二条 本协议由双方于 年 月 日在中国 湖北\\省 武汉xx签署。};
\node[L] (b8d) at (896,4455) {第二章 定义与解释};
\node[L] (b8e) at (896,4535) {第三条 名词解释：};
\node[L,wide] (b8e1) at (769,4535) {法律：指所有适用的中国法律、行政法规、地方性法规、自治条例和单行条例、规章、司法解释及其它有法律约束力的规范性文件，本协议中中国不包含香港特别行政区、澳门特别行政区和中国台湾地区。};
\kidsL{b8}{b8a,b8b,b8c,b8d,b8e}
\kidsL{b8a}{b8a1}
\kidsL{b8b}{b8b1,b8b2,b8b3,b8b4,b8b5,b8b6}
\kidsL{b8e}{b8e1}

% 第十篇
\node[L] (b10a) at (896,4617) {供水方(甲方)：\fillin{7}};
\node[L] (b10b) at (896,4668) {用水方(乙方)：\fillin{7}};
\node[L,wide] (b10c) at (896,4742) {用方因经营需要,使用甲方提供的水源,为明确供、用双方在水力供给与使用中的权利和义务,经甲、乙双方协商一致,签订本协议,共同信守,严格履行。};
\node[L] (b10d) at (896,4815) {一、用方临时用水相关信息};
\node[L] (b10d1) at (727,4815) {用方临时用水地点：\fillin{7}};
\node[L] (b10e) at (896,4874) {二、临时用水期限：自\fillin{2}年\fillin{1}月\fillin{1}日至\\\fillin{2}年\fillin{1}月\fillin{1}日止;};
\node[L] (b10f) at (896,4940) {三、用水性质：\fillin{7},执行水价为\\：\fillin{7}元/立方;};
\node[L,wide] (b10f1) at (634,4940) {若水价市场价格有所变动将按变动幅度进行相应的调整。};
\node[L] (b10g) at (896,4999) {四、用水方需供水管径：\fillin{7};};
\node[L] (b10h) at (896,5090) {五、结算方式：\fillin{7}};
\node[L,wide] (b10h1) at (690,5057) {1、水费按临时安装的水表量乘以协议规定水价进行结算;};
\node[L,wide] (b10h2) at (690,5123) {3、采用月结方式,即每月5日前(遇休息日前移)结算,结算时开具收据;};
\node[L,wide] (b10i) at (896,5190) {六、用方用电用水前须向供方预交保证金元,借用结束时多退少补;};
\node[L] (b10j) at (896,5270) {七、产权分界点};
\node[L,wide] (b10j1) at (783,5270) {用水方临时连接点(水表)及以外的用水管路及设施属用方资产;连接点以内的管路及设施属供水方资产。水搭建、计量仪表等所需材料均由用方承担;};
\node[L] (b10k) at (896,5432) {八、安全责任};
\node[L,wide] (b10k1) at (785,5351) {1、属用方产权的设施,由用方负责,并由用方承担因此引起的所有安全责任;};
\node[L,wide] (b10k2) at (785,5417) {2、因用水方供水管道泄露导致的用水损耗,均全部由用水方承担全部责任;};
\node[L,wide] (b10k3) at (785,5512) {3、临时用水,用方必须与自来水公司协调,得到相关部门认可后方可实施,若造成供方因此而引发的责任或罚款,必须由用方全部承担,甲方概不负责。九、本协议一式两份,自签订之日起生效。};
\node[L] (b10k3a) at (526,5482) {供方(盖章)：\fillin{7}用方(盖章)：\fillin{1}\\\fillin{7}};
\node[L] (b10k3b) at (526,5542) {\fillin{3}年\fillin{1.5}月\fillin{1.5}日 \fillin{3}年\fillin{1.5}月\fillin{1.5}日};
\kidsL{b10}{b10a,b10b,b10c,b10d,b10e,b10f,b10g,b10h,b10i,b10j,b10k}
\kidsL{b10d}{b10d1}
\kidsL{b10f}{b10f1}
\kidsL{b10h}{b10h1,b10h2}
\kidsL{b10j}{b10j1}
\kidsL{b10k}{b10k1,b10k2,b10k3}
\kidsL{b10k3}{b10k3a,b10k3b}

% watermark
\foreach \wy [count=\i] in {515,1515,2505,3510,4520,5526,6510} {
  \node[wmark] (wl\i) at (640,\wy) {树图 {\wmlatin\fontsize{82pt}{82pt}\selectfont shutu.cn}};
  \node[wmark] (wr\i) at (1927,\wy) {树图 {\wmlatin\fontsize{82pt}{82pt}\selectfont shutu.cn}};
}
\end{tikzpicture}
\end{document}
